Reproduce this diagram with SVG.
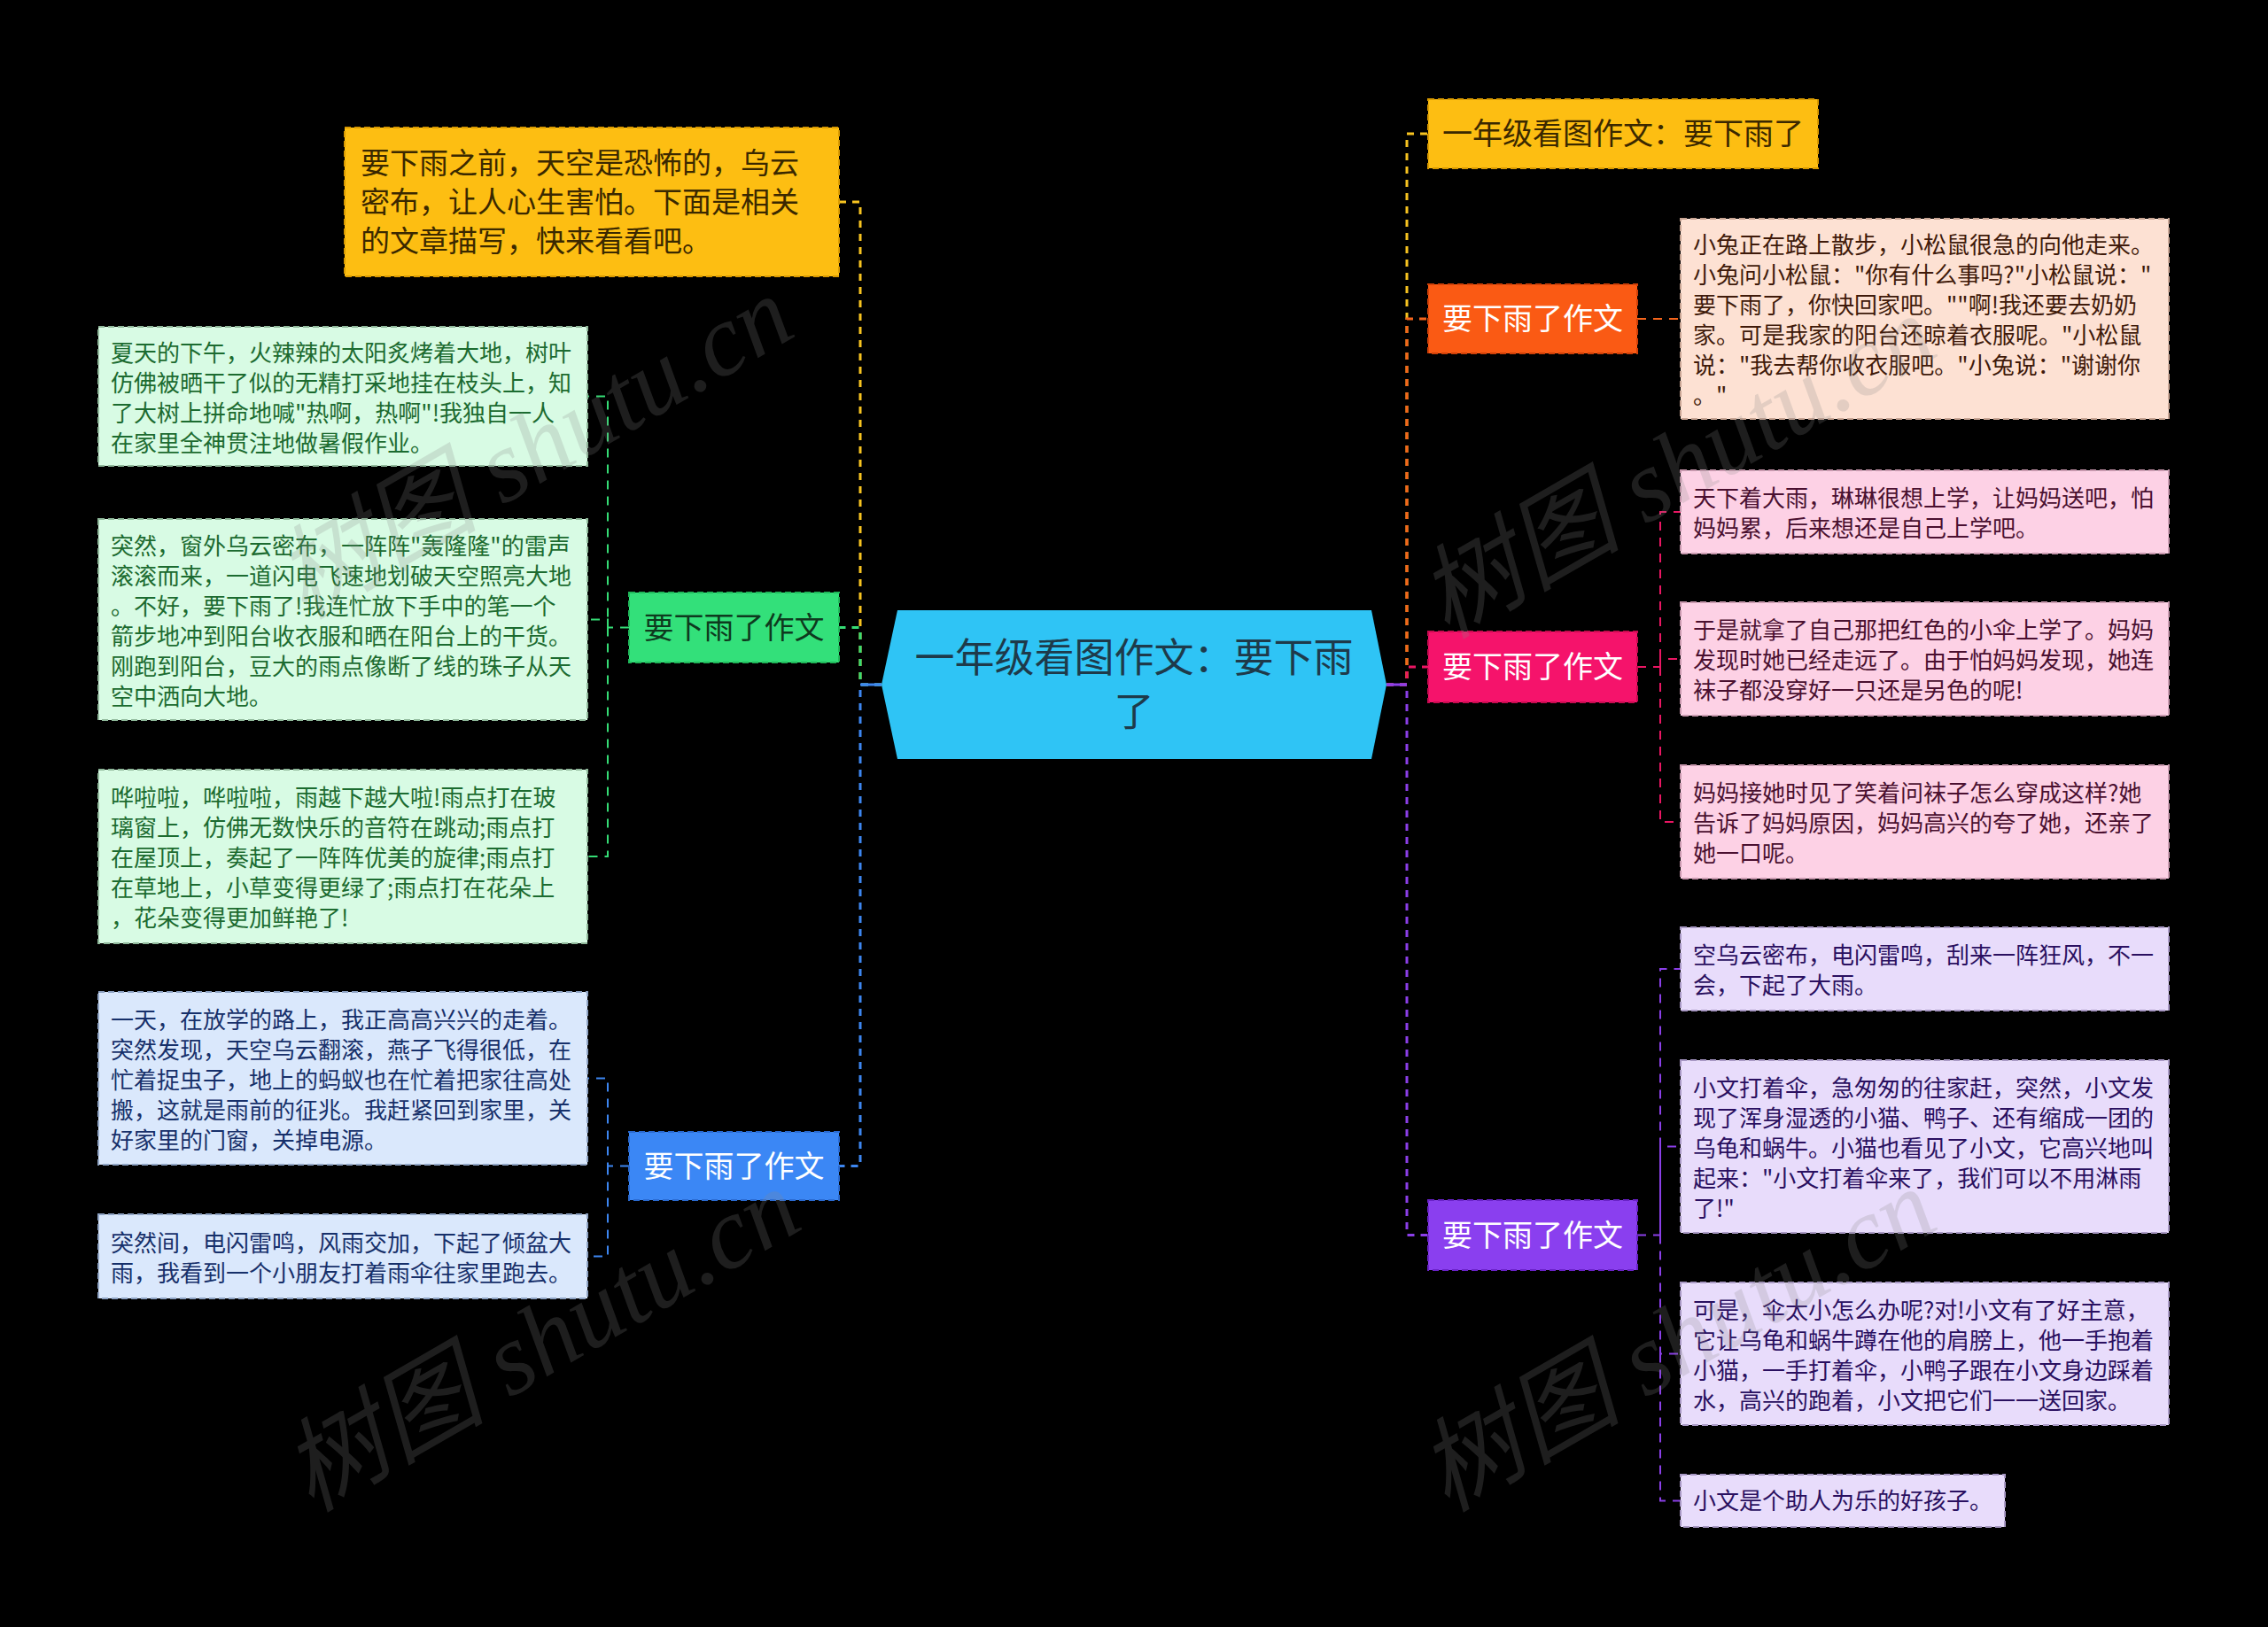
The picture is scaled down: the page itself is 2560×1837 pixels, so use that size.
<svg xmlns="http://www.w3.org/2000/svg" width="2560" height="1837" viewBox="0 0 2560 1837">
<style>
text{font-family:"Noto Sans CJK SC","Noto Sans",sans-serif}
.tb{font-size:26px}
.br{font-size:34px}
.trunk{fill:none;stroke-width:3;stroke-dasharray:8 7}
.sub{fill:none;stroke-width:2;stroke-dasharray:10 8}
.box{stroke-width:2;stroke-dasharray:7 4}
.wm{font-family:"Liberation Serif","Noto Sans CJK SC",serif;font-style:italic;font-size:115px;fill:#8a8a8a;opacity:0.22}
</style>
<rect width="2560" height="1837" fill="#000"/>
<g id="connectors">
  <path class="trunk" stroke="#f7c320" d="M995,773 H971 V228 H947"/>
  <path class="trunk" stroke="#35dc75" d="M995,773 H971 V708.5 H947"/>
  <path class="trunk" stroke="#3d86f0" d="M995,773 H971 V1316.5 H947"/>
  <path fill="none" stroke="#3d86f0" stroke-width="3" d="M995,773 H971"/>
  <path class="sub" stroke="#35dc75" d="M710,708.5 H686 V447.5 H663 M686,708.5 V699.5 H663 M686,708.5 V967 H663"/>
  <path class="sub" stroke="#3d86f0" d="M710,1316.5 H686 V1217.5 H663 M686,1316.5 V1418.5 H663"/>
  <path class="trunk" stroke="#f7c320" d="M1565,773 H1588 V151 H1612"/>
  <path class="trunk" stroke="#f5651c" d="M1565,773 H1588 V360 H1612"/>
  <path class="trunk" stroke="#ea1663" d="M1565,773 H1588 V753 H1612"/>
  <path class="trunk" stroke="#8b3fe8" d="M1565,773 H1588 V1394.5 H1612"/>
  <path fill="none" stroke="#8b3fe8" stroke-width="3" d="M1565,773 H1588"/>
  <path class="sub" stroke="#f5651c" d="M1848,360 H1897"/>
  <path class="sub" stroke="#ea1663" d="M1848,753 H1874 V578 H1897 M1874,753 V744 H1897 M1874,753 V928 H1897"/>
  <path class="sub" stroke="#8b3fe8" d="M1848,1394.5 H1874 V1094 H1897 M1874,1394.5 V1294.5 H1897 M1874,1394.5 V1528.5 H1897 M1874,1528.5 V1694.5 H1897"/>
</g>
<g id="center">
  <polygon points="995,773 1013,689 1548,689 1565,773 1548,857 1013,857" fill="#2fc4f5"/>
  <text x="1280" y="759" font-size="45" fill="#1e3a4a" text-anchor="middle">一年级看图作文：要下雨</text>
  <text x="1280" y="820" font-size="45" fill="#1e3a4a" text-anchor="middle">了</text>
</g>
<g id="intro">
  <rect class="box" x="389" y="144" width="558" height="168" fill="#fdbe12" stroke="#d99a00"/>
  <text font-size="33" fill="#3a2800"><tspan x="407" y="196">要下雨之前，天空是恐怖的，乌云</tspan><tspan x="407" y="240">密布，让人心生害怕。下面是相关</tspan><tspan x="407" y="284">的文章描写，快来看看吧。</tspan></text>
</g>
<g id="green-node">
  <rect class="box" x="710" y="669" width="237" height="79" fill="#33e07a" stroke="#20b85a"/>
  <text class="br" x="828.5" y="720.5" fill="#0e3a1e" text-anchor="middle">要下雨了作文</text>
</g>
<g id="green-a">
  <rect class="box" x="111" y="369" width="552" height="157" fill="#d8fbe4" stroke="#8fb89a"/>
  <text class="tb" fill="#1c6b30"><tspan x="125" y="407.5">夏天的下午，火辣辣的太阳炙烤着大地，树叶</tspan><tspan x="125" y="441.5">仿佛被晒干了似的无精打采地挂在枝头上，知</tspan><tspan x="125" y="475.5">了大树上拼命地喊"热啊，热啊"!我独自一人</tspan><tspan x="125" y="509.5">在家里全神贯注地做暑假作业。</tspan></text>
</g>
<g id="green-b">
  <rect class="box" x="111" y="586" width="552" height="227" fill="#d8fbe4" stroke="#8fb89a"/>
  <text class="tb" fill="#1c6b30"><tspan x="125" y="625.5">突然，窗外乌云密布，一阵阵"轰隆隆"的雷声</tspan><tspan x="125" y="659.5">滚滚而来，一道闪电飞速地划破天空照亮大地</tspan><tspan x="125" y="693.5">。不好，要下雨了!我连忙放下手中的笔一个</tspan><tspan x="125" y="727.5">箭步地冲到阳台收衣服和晒在阳台上的干货。</tspan><tspan x="125" y="761.5">刚跑到阳台，豆大的雨点像断了线的珠子从天</tspan><tspan x="125" y="795.5">空中洒向大地。</tspan></text>
</g>
<g id="green-c">
  <rect class="box" x="111" y="869" width="552" height="196" fill="#d8fbe4" stroke="#8fb89a"/>
  <text class="tb" fill="#1c6b30"><tspan x="125" y="910">哗啦啦，哗啦啦，雨越下越大啦!雨点打在玻</tspan><tspan x="125" y="944">璃窗上，仿佛无数快乐的音符在跳动;雨点打</tspan><tspan x="125" y="978">在屋顶上，奏起了一阵阵优美的旋律;雨点打</tspan><tspan x="125" y="1012">在草地上，小草变得更绿了;雨点打在花朵上</tspan><tspan x="125" y="1046">，花朵变得更加鲜艳了!</tspan></text>
</g>
<g id="blue-node">
  <rect class="box" x="710" y="1278" width="237" height="77" fill="#3b87f5" stroke="#2a6ad0"/>
  <text class="br" x="828.5" y="1328.5" fill="#fff" text-anchor="middle">要下雨了作文</text>
</g>
<g id="blue-d">
  <rect class="box" x="111" y="1120" width="552" height="195" fill="#dae8fc" stroke="#8ea3c4"/>
  <text class="tb" fill="#17306a"><tspan x="125" y="1160.5">一天，在放学的路上，我正高高兴兴的走着。</tspan><tspan x="125" y="1194.5">突然发现，天空乌云翻滚，燕子飞得很低，在</tspan><tspan x="125" y="1228.5">忙着捉虫子，地上的蚂蚁也在忙着把家往高处</tspan><tspan x="125" y="1262.5">搬，这就是雨前的征兆。我赶紧回到家里，关</tspan><tspan x="125" y="1296.5">好家里的门窗，关掉电源。</tspan></text>
</g>
<g id="blue-e">
  <rect class="box" x="111" y="1371" width="552" height="95" fill="#dae8fc" stroke="#8ea3c4"/>
  <text class="tb" fill="#17306a"><tspan x="125" y="1412.5">突然间，电闪雷鸣，风雨交加，下起了倾盆大</tspan><tspan x="125" y="1446.5">雨，我看到一个小朋友打着雨伞往家里跑去。</tspan></text>
</g>
<g id="title-node">
  <rect class="box" x="1612" y="112" width="440" height="78" fill="#fdbe12" stroke="#d99a00"/>
  <text class="br" x="1832" y="163" fill="#3a2800" text-anchor="middle">一年级看图作文：要下雨了</text>
</g>
<g id="orange-node">
  <rect class="box" x="1612" y="321" width="236" height="78" fill="#fa5a14" stroke="#d04008"/>
  <text class="br" x="1730" y="372" fill="#fff" text-anchor="middle">要下雨了作文</text>
</g>
<g id="orange-f">
  <rect class="box" x="1897" y="247" width="551" height="226" fill="#fde1d3" stroke="#c8a594"/>
  <text class="tb" fill="#3f1a0a"><tspan x="1911" y="286">小兔正在路上散步，小松鼠很急的向他走来。</tspan><tspan x="1911" y="320">小兔问小松鼠："你有什么事吗?"小松鼠说："</tspan><tspan x="1911" y="354">要下雨了，你快回家吧。""啊!我还要去奶奶</tspan><tspan x="1911" y="388">家。可是我家的阳台还晾着衣服呢。"小松鼠</tspan><tspan x="1911" y="422">说："我去帮你收衣服吧。"小兔说："谢谢你</tspan><tspan x="1911" y="456">。"</tspan></text>
</g>
<g id="pink-node">
  <rect class="box" x="1612" y="713" width="236" height="80" fill="#f5136b" stroke="#c80a50"/>
  <text class="br" x="1730" y="765" fill="#fff" text-anchor="middle">要下雨了作文</text>
</g>
<g id="pink-g">
  <rect class="box" x="1897" y="531" width="551" height="94" fill="#fdd1e5" stroke="#c898ae"/>
  <text class="tb" fill="#4a1030"><tspan x="1911" y="572">天下着大雨，琳琳很想上学，让妈妈送吧，怕</tspan><tspan x="1911" y="606">妈妈累，后来想还是自己上学吧。</tspan></text>
</g>
<g id="pink-h">
  <rect class="box" x="1897" y="680" width="551" height="128" fill="#fdd1e5" stroke="#c898ae"/>
  <text class="tb" fill="#4a1030"><tspan x="1911" y="721">于是就拿了自己那把红色的小伞上学了。妈妈</tspan><tspan x="1911" y="755">发现时她已经走远了。由于怕妈妈发现，她连</tspan><tspan x="1911" y="789">袜子都没穿好一只还是另色的呢!</tspan></text>
</g>
<g id="pink-i">
  <rect class="box" x="1897" y="864" width="551" height="128" fill="#fdd1e5" stroke="#c898ae"/>
  <text class="tb" fill="#4a1030"><tspan x="1911" y="905">妈妈接她时见了笑着问袜子怎么穿成这样?她</tspan><tspan x="1911" y="939">告诉了妈妈原因，妈妈高兴的夸了她，还亲了</tspan><tspan x="1911" y="973">她一口呢。</tspan></text>
</g>
<g id="purple-node">
  <rect class="box" x="1612" y="1355" width="236" height="79" fill="#8a3fef" stroke="#6a22c8"/>
  <text class="br" x="1730" y="1406.5" fill="#fff" text-anchor="middle">要下雨了作文</text>
</g>
<g id="purple-j">
  <rect class="box" x="1897" y="1047" width="551" height="94" fill="#e8dcfb" stroke="#a898c4"/>
  <text class="tb" fill="#2a1060"><tspan x="1911" y="1088">空乌云密布，电闪雷鸣，刮来一阵狂风，不一</tspan><tspan x="1911" y="1122">会，下起了大雨。</tspan></text>
</g>
<g id="purple-k">
  <rect class="box" x="1897" y="1197" width="551" height="195" fill="#e8dcfb" stroke="#a898c4"/>
  <text class="tb" fill="#2a1060"><tspan x="1911" y="1237.5">小文打着伞，急匆匆的往家赶，突然，小文发</tspan><tspan x="1911" y="1271.5">现了浑身湿透的小猫、鸭子、还有缩成一团的</tspan><tspan x="1911" y="1305.5">乌龟和蜗牛。小猫也看见了小文，它高兴地叫</tspan><tspan x="1911" y="1339.5">起来："小文打着伞来了，我们可以不用淋雨</tspan><tspan x="1911" y="1373.5">了!"</tspan></text>
</g>
<g id="purple-l">
  <rect class="box" x="1897" y="1448" width="551" height="161" fill="#e8dcfb" stroke="#a898c4"/>
  <text class="tb" fill="#2a1060"><tspan x="1911" y="1488.5">可是，伞太小怎么办呢?对!小文有了好主意，</tspan><tspan x="1911" y="1522.5">它让乌龟和蜗牛蹲在他的肩膀上，他一手抱着</tspan><tspan x="1911" y="1556.5">小猫，一手打着伞，小鸭子跟在小文身边踩着</tspan><tspan x="1911" y="1590.5">水，高兴的跑着，小文把它们一一送回家。</tspan></text>
</g>
<g id="purple-m">
  <rect class="box" x="1897" y="1665" width="366" height="59" fill="#e8dcfb" stroke="#a898c4"/>
  <text class="tb" fill="#2a1060" x="1911" y="1704">小文是个助人为乐的好孩子。</text>
</g>
<g id="watermarks">
  <text class="wm" transform="translate(343,700) rotate(-30)">树图 shutu.cn</text>
  <text class="wm" transform="translate(351,1708) rotate(-30)">树图 shutu.cn</text>
  <text class="wm" transform="translate(1633,722) rotate(-30)">树图 shutu.cn</text>
  <text class="wm" transform="translate(1633,1708) rotate(-30)">树图 shutu.cn</text>
</g>
</svg>
